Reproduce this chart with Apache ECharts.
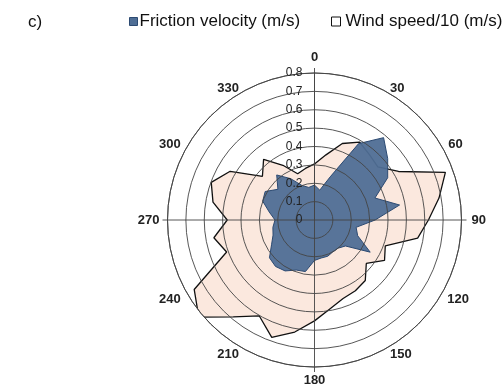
<!DOCTYPE html>
<html>
<head>
<meta charset="utf-8">
<script src="https://cdn.jsdelivr.net/npm/echarts@6/dist/echarts.min.js"></script>
<style>
html,body{margin:0;padding:0;background:#fff;}
#c{width:504px;height:392px;}
</style>
</head>
<body>
<div id="c"></div>
<script>
// Direction (degrees, clockwise from north)
var directions = [0,10,20,30,40,50,60,70,80,90,100,110,120,130,140,150,160,170,
                  180,190,200,210,220,230,240,250,260,270,280,290,300,310,320,330,340,350];
// Friction velocity (m/s)
var frictionVelocity = [0.19,0.165,0.25,0.48,0.585,0.52,0.46,0.35,0.47,0.33,0.23,0.25,
                        0.35,0.22,0.20,0.20,0.21,0.21,0.22,0.285,0.29,0.32,0.33,0.32,
                        0.27,0.24,0.23,0.215,0.25,0.30,0.31,0.26,0.32,0.26,0.20,0.18];
// Wind speed / 10 (m/s)
var windSpeed10 = [0.305,0.36,0.443,0.49,0.465,0.45,0.528,0.758,0.688,0.62,0.57,0.41,
                   0.44,0.368,0.43,0.445,0.455,0.49,0.549,0.619,0.68,0.602,0.688,0.822,
                   0.756,0.509,0.556,0.475,0.561,0.598,0.53,0.37,0.431,0.344,0.268,0.285];
var seriesNames = ['Friction velocity (m/s)', 'Wind speed/10 (m/s)'];
var radiusTicks = {min: 0, max: 0.8, step: 0.1};
var angleLabelStep = 30;

function closedPolygon(vals) {
  var pts = directions.map(function (d, i) { return [vals[i], d]; });
  pts.push([vals[0], 360]);
  return pts;
}

var chart = echarts.init(document.getElementById('c'), null, {renderer: 'canvas'});
var C = [314.5, 220];
var R = 147;
var gridColor = '#444';
var font = 'Liberation Sans, Arial, sans-serif';
var blueFill = '#4f6e95';
var blueEdge = '#2c4a72';

// label styling per angle position (fine placement of the angle labels)
function angleRich() {
  var base = {fontFamily: font, fontSize: 13, fontWeight: 'bold', color: '#222'};
  var tweak = {
    0: {lineHeight: 23},
    30: {lineHeight: 1}, 330: {lineHeight: 1},
    60: {lineHeight: 1, padding: [0, 0, 0, 3]}, 300: {lineHeight: 1, padding: [0, 3, 0, 0]},
    90: {padding: [0, 0, 0, 6]}, 270: {padding: [0, 4, 0, 0]},
    120: {lineHeight: 7, padding: [0, 0, 0, 2]}, 240: {lineHeight: 7, padding: [0, 3, 0, 0]},
    150: {lineHeight: 7}, 210: {lineHeight: 7},
    180: {lineHeight: 19}
  };
  var rich = {};
  Object.keys(tweak).forEach(function (k) {
    rich['a' + k] = Object.assign({}, base, tweak[k]);
  });
  return rich;
}

chart.setOption({
  animation: false,
  backgroundColor: '#fff',
  title: {
    text: 'c)', left: 23, top: 9,
    textStyle: {fontFamily: font, fontSize: 17, fontWeight: 'normal', color: '#111'}
  },
  legend: [
    {
      left: 124, top: 8, itemWidth: 8, itemHeight: 8, icon: 'rect',
      textStyle: {fontFamily: font, fontSize: 17, color: '#111', padding: [0,0,0,-3]},
      data: [{name: seriesNames[0], itemStyle: {color: blueFill, borderColor: blueEdge, borderWidth: 1}}]
    },
    {
      left: 326, top: 8, itemWidth: 9, itemHeight: 9, icon: 'rect',
      textStyle: {fontFamily: font, fontSize: 17, color: '#111', padding: [0,0,0,0]},
      data: [{name: seriesNames[1], itemStyle: {color: '#fff', borderColor: '#111', borderWidth: 1}}]
    }
  ],
  polar: [
    {center: C, radius: R},
    {center: C, radius: R}
  ],
  angleAxis: [
    {
      polarIndex: 0, type: 'value', min: 0, max: 360, interval: angleLabelStep,
      startAngle: 90, clockwise: true, z: 5,
      axisLine: {show: true, lineStyle: {color: gridColor, width: 0.9}},
      axisTick: {show: false},
      splitLine: {show: false},
      axisLabel: {
        show: true, margin: 4, color: '#222',
        fontFamily: font, fontSize: 13, fontWeight: 'bold',
        rich: angleRich(),
        formatter: function (v) { return v === 360 ? '' : '{a' + v + '|' + v + '}'; }
      }
    },
    {
      polarIndex: 1, type: 'value', min: 0, max: 360, interval: 90,
      startAngle: 90, clockwise: true, z: 5,
      axisLine: {show: false},
      axisTick: {show: true, inside: false, length: 5, lineStyle: {color: gridColor, width: 0.9}},
      splitLine: {show: true, lineStyle: {color: gridColor, width: 0.9}},
      axisLabel: {show: false}
    }
  ],
  radiusAxis: [
    {
      polarIndex: 0, type: 'value', min: radiusTicks.min, max: radiusTicks.max,
      interval: radiusTicks.step, z: 5,
      axisLine: {show: true, lineStyle: {color: gridColor, width: 0.9}},
      axisTick: {show: false},
      splitLine: {show: true, lineStyle: {color: gridColor, width: 0.9}},
      axisLabel: {
        show: true, margin: 12, color: '#222', fontFamily: font, fontSize: 12,
        formatter: function (v) { return v === 0 ? '0' : (Math.round(v * 10) / 10).toString(); }
      }
    },
    {
      polarIndex: 1, type: 'value', min: 0, max: 0.8, show: false,
      axisLine: {show: false}, axisLabel: {show: false}, splitLine: {show: false}, axisTick: {show: false}
    }
  ],
  series: [
    {
      name: seriesNames[1], type: 'line', coordinateSystem: 'polar', polarIndex: 0,
      data: closedPolygon(windSpeed10), showSymbol: false, symbol: 'none', clip: false,
      lineStyle: {color: '#111', width: 1.3},
      itemStyle: {color: '#fff', borderColor: '#111'},
      areaStyle: {color: '#fbe8de', opacity: 1},
      z: 2
    },
    {
      name: seriesNames[0], type: 'line', coordinateSystem: 'polar', polarIndex: 0,
      data: closedPolygon(frictionVelocity), showSymbol: false, symbol: 'none', clip: false,
      lineStyle: {color: blueEdge, width: 1},
      itemStyle: {color: blueFill},
      areaStyle: {color: blueFill, opacity: 0.95},
      z: 3
    }
  ]
});
</script>
</body>
</html>
